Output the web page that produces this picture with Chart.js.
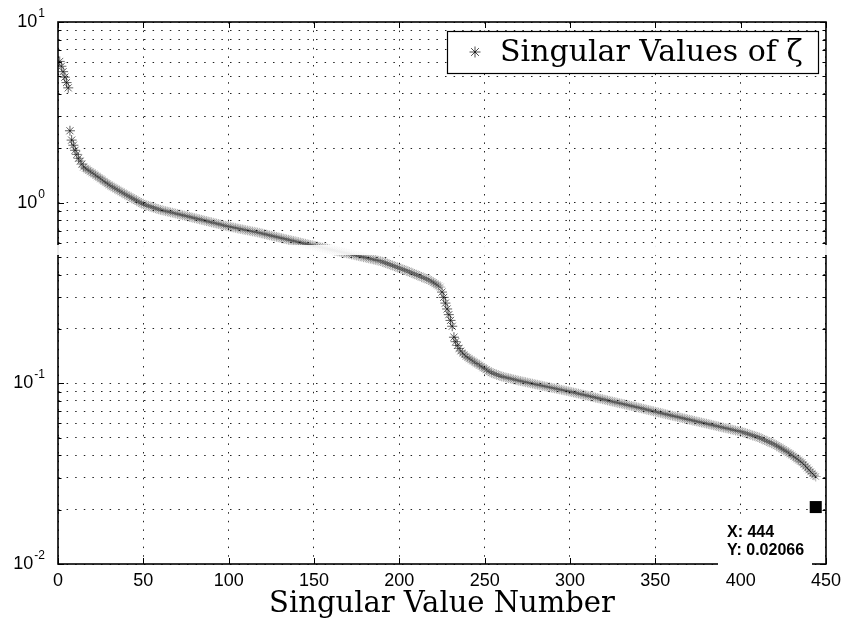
<!DOCTYPE html>
<html>
<head>
<meta charset="utf-8">
<script src="https://cdn.jsdelivr.net/npm/chart.js@4.4.0/dist/chart.umd.min.js"></script>
<style>
  html, body { margin: 0; padding: 0; background: #fff; }
</style>
</head>
<body>
<canvas id="chart" width="847" height="624"></canvas>
<script>
// singular values, index 1..444
var singularValues = [
  6.05, 5.69, 5.31, 4.95, 4.62, 4.32, 2.50, 2.22, 2.08, 1.95,
  1.85, 1.76, 1.70, 1.635, 1.575, 1.549, 1.528, 1.507, 1.483, 1.462,
  1.442, 1.419, 1.396, 1.377, 1.355, 1.334, 1.312, 1.291, 1.274, 1.253,
  1.237, 1.222, 1.206, 1.191, 1.176, 1.161, 1.147, 1.132, 1.118, 1.104,
  1.091, 1.078, 1.065, 1.052, 1.040, 1.028, 1.015, 1.003, 0.991, 0.980,
  0.972, 0.966, 0.959, 0.952, 0.945, 0.938, 0.932, 0.925, 0.919, 0.912,
  0.907, 0.903, 0.898, 0.893, 0.889, 0.884, 0.880, 0.875, 0.870, 0.866,
  0.861, 0.857, 0.852, 0.848, 0.844, 0.839, 0.835, 0.830, 0.826, 0.821,
  0.817, 0.813, 0.808, 0.804, 0.800, 0.795, 0.791, 0.787, 0.782, 0.778,
  0.774, 0.770, 0.766, 0.762, 0.758, 0.753, 0.749, 0.745, 0.741, 0.738,
  0.735, 0.731, 0.728, 0.725, 0.721, 0.718, 0.715, 0.712, 0.708, 0.705,
  0.702, 0.699, 0.696, 0.693, 0.690, 0.687, 0.684, 0.681, 0.677, 0.674,
  0.670, 0.667, 0.663, 0.660, 0.656, 0.653, 0.650, 0.646, 0.643, 0.640,
  0.636, 0.633, 0.630, 0.627, 0.623, 0.620, 0.617, 0.614, 0.611, 0.608,
  0.605, 0.602, 0.598, 0.595, 0.592, 0.589, 0.586, 0.583, 0.581, 0.578,
  0.575, 0.572, 0.569, 0.566, 0.563, 0.560, 0.558, 0.555, 0.552, 0.549,
  0.546, 0.544, 0.541, 0.538, 0.536, 0.533, 0.530, 0.528, 0.525, 0.522,
  0.520, 0.517, 0.515, 0.512, 0.509, 0.507, 0.504, 0.502, 0.499, 0.497,
  0.494, 0.492, 0.489, 0.487, 0.484, 0.482, 0.479, 0.477, 0.475, 0.471,
  0.467, 0.463, 0.460, 0.456, 0.452, 0.449, 0.445, 0.442, 0.438, 0.434,
  0.431, 0.427, 0.424, 0.421, 0.417, 0.413, 0.410, 0.406, 0.402, 0.399,
  0.395, 0.392, 0.388, 0.385, 0.381, 0.378, 0.375, 0.371, 0.366, 0.361,
  0.356, 0.351, 0.346, 0.341, 0.320, 0.299, 0.278, 0.258, 0.240, 0.223,
  0.207, 0.180, 0.170, 0.162, 0.156, 0.151, 0.147, 0.144, 0.141, 0.139,
  0.137, 0.135, 0.133, 0.131, 0.129, 0.128, 0.126, 0.124, 0.122, 0.121,
  0.119, 0.117, 0.116, 0.1146, 0.1135, 0.1127, 0.1117, 0.1109, 0.1099, 0.1091,
  0.1085, 0.1080, 0.1074, 0.1069, 0.1063, 0.1057, 0.1052, 0.1046, 0.1040, 0.1035,
  0.1030, 0.1025, 0.1020, 0.1015, 0.1010, 0.1006, 0.1001, 0.0996, 0.0991, 0.0986,
  0.0982, 0.0977, 0.0973, 0.0968, 0.0964, 0.0959, 0.0955, 0.0951, 0.0946, 0.0942,
  0.0938, 0.0933, 0.0929, 0.0925, 0.0920, 0.0916, 0.0912, 0.0908, 0.0904, 0.0899,
  0.0895, 0.0890, 0.0886, 0.0881, 0.0877, 0.0872, 0.0868, 0.0864, 0.0859, 0.0855,
  0.0851, 0.0846, 0.0842, 0.0838, 0.0834, 0.0829, 0.0825, 0.0821, 0.0817, 0.0813,
  0.0809, 0.0804, 0.0800, 0.0796, 0.0792, 0.0788, 0.0784, 0.0780, 0.0776, 0.0773,
  0.0769, 0.0765, 0.0761, 0.0757, 0.0753, 0.0749, 0.0746, 0.0742, 0.0738, 0.0735,
  0.0731, 0.0727, 0.0723, 0.0719, 0.0715, 0.0711, 0.0708, 0.0704, 0.0700, 0.0697,
  0.0693, 0.0690, 0.0686, 0.0682, 0.0679, 0.0675, 0.0672, 0.0668, 0.0665, 0.0661,
  0.0658, 0.0655, 0.0652, 0.0648, 0.0645, 0.0642, 0.0638, 0.0635, 0.0632, 0.0629,
  0.0626, 0.0622, 0.0619, 0.0616, 0.0613, 0.0610, 0.0607, 0.0604, 0.0601, 0.0598,
  0.0595, 0.0592, 0.0589, 0.0586, 0.0583, 0.0580, 0.0577, 0.0574, 0.0571, 0.0568,
  0.0565, 0.0563, 0.0560, 0.0557, 0.0554, 0.0551, 0.0548, 0.0546, 0.0543, 0.0541,
  0.0537, 0.0533, 0.0530, 0.0526, 0.0522, 0.0519, 0.0515, 0.0512, 0.0508, 0.0505,
  0.0500, 0.0495, 0.0490, 0.0486, 0.0481, 0.0476, 0.0472, 0.0467, 0.0463, 0.0458,
  0.0452, 0.0447, 0.0441, 0.0435, 0.0430, 0.0424, 0.0419, 0.0413, 0.0407, 0.0401,
  0.0394, 0.0388, 0.0382, 0.0376, 0.0370, 0.0364, 0.0356, 0.0348, 0.0340, 0.0332,
  0.0324, 0.0317, 0.0310, 0.0305
];

// data tip shown in the figure
var tipX = 444;
var tipY = 0.02066;

var xTicks = [0, 50, 100, 150, 200, 250, 300, 350, 400, 450];
var yDecades = [0.01, 0.1, 1, 10];
var yGridValues = [
  0.01, 0.02, 0.03, 0.04, 0.05, 0.06, 0.07, 0.08, 0.09,
  0.1, 0.2, 0.3, 0.4, 0.5, 0.6, 0.7, 0.8, 0.9,
  1, 2, 3, 4, 5, 6, 7, 8, 9,
  10
];
var legendLabel = 'Singular Values of \u03B6';
var xTitle = 'Singular Value Number';

var points = singularValues.map(function (v, i) {
  return { x: i + 1, y: v };
});

// stars that stand apart from their neighbour look darker in the scan
function starColor(c) {
  var i = c.dataIndex;
  var prev = singularValues[i > 0 ? i - 1 : 1];
  var d = Math.abs(Math.log10(singularValues[i]) - Math.log10(prev));
  var alpha = 0.25 + Math.min(0.55, d * 18);
  return 'rgba(0,0,0,' + alpha.toFixed(2) + ')';
}

function starPath(ctx, x, y, r) {
  var d = r * Math.SQRT1_2;
  ctx.moveTo(x - r, y); ctx.lineTo(x + r, y);
  ctx.moveTo(x, y - r); ctx.lineTo(x, y + r);
  ctx.moveTo(x - d, y - d); ctx.lineTo(x + d, y + d);
  ctx.moveTo(x - d, y + d); ctx.lineTo(x + d, y - d);
}

var framePlugin = {
  id: 'frame',
  afterDraw: function (chart) {
    var ctx = chart.ctx;
    var a = chart.chartArea;
    var xs = chart.scales.x;
    var ys = chart.scales.y;

    ctx.save();

    // inward ticks on all four sides
    ctx.strokeStyle = '#000';
    ctx.lineWidth = 1;
    ctx.beginPath();
    xTicks.forEach(function (t) {
      var px = Math.round(xs.getPixelForValue(t)) + 0.5;
      ctx.moveTo(px, a.bottom); ctx.lineTo(px, a.bottom - 6);
      ctx.moveTo(px, a.top); ctx.lineTo(px, a.top + 6);
    });
    yGridValues.forEach(function (v) {
      var py = Math.round(ys.getPixelForValue(v)) + 0.5;
      var len = yDecades.indexOf(v) >= 0 ? 6 : 3.5;
      ctx.moveTo(a.left, py); ctx.lineTo(a.left + len, py);
      ctx.moveTo(a.right, py); ctx.lineTo(a.right - len, py);
    });
    ctx.stroke();

    // axes box
    ctx.lineWidth = 1.6;
    ctx.strokeRect(a.left, a.top, a.right - a.left, a.bottom - a.top);

    // y tick labels 10^n
    ctx.fillStyle = '#000';
    ctx.textBaseline = 'alphabetic';
    yDecades.forEach(function (v) {
      var py = ys.getPixelForValue(v);
      var exp = String(Math.round(Math.log10(v)));
      ctx.font = '12px "Liberation Sans", Arial, sans-serif';
      var ew = ctx.measureText(exp).width;
      var right = 45;
      ctx.textAlign = 'left';
      ctx.fillText(exp, right - ew, py - 5);
      ctx.font = '18px "Liberation Sans", Arial, sans-serif';
      ctx.textAlign = 'right';
      ctx.fillText('10', right - ew - 1, py + 5);
    });

    // legend box
    ctx.fillStyle = '#fff';
    ctx.fillRect(447, 31, 371, 42);
    ctx.lineWidth = 1.2;
    ctx.strokeStyle = '#000';
    ctx.strokeRect(447.5, 31.5, 371, 42);
    ctx.beginPath();
    ctx.lineWidth = 1;
    ctx.strokeStyle = 'rgba(0,0,0,0.7)';
    starPath(ctx, 475, 52, 5.5);
    ctx.stroke();
    ctx.fillStyle = '#000';
    ctx.font = '30px "DejaVu Serif", serif';
    ctx.textAlign = 'left';
    ctx.textBaseline = 'middle';
    ctx.fillText(legendLabel, 500, 53);

    // data tip label
    ctx.fillStyle = '#fff';
    ctx.fillRect(718, 514, 94, 56);
    ctx.fillStyle = '#000';
    ctx.font = 'bold 16px "Liberation Sans", Arial, sans-serif';
    ctx.textBaseline = 'alphabetic';
    ctx.fillText('X: ' + tipX, 727, 537);
    ctx.fillText('Y: ' + tipY, 727, 555);

    // light band left by the scan
    ctx.fillStyle = 'rgba(255,255,255,0.9)';
    ctx.fillRect(0, 245, 847, 10);

    ctx.restore();
  }
};

new Chart(document.getElementById('chart'), {
  type: 'scatter',
  data: {
    datasets: [
      {
        label: legendLabel,
        data: points,
        pointStyle: 'star',
        pointRadius: 5,
        borderWidth: 0.8,
        borderColor: starColor,
        backgroundColor: 'rgba(0,0,0,0)'
      },
      {
        label: 'data tip',
        data: [{ x: tipX, y: tipY }],
        pointStyle: 'rect',
        pointRadius: 8.5,
        borderWidth: 0,
        backgroundColor: '#000',
        borderColor: '#000'
      }
    ]
  },
  options: {
    responsive: false,
    animation: false,
    devicePixelRatio: 1,
    events: [],
    layout: { padding: { top: 22, right: 21, left: 0, bottom: 0 } },
    plugins: {
      legend: { display: false },
      tooltip: { enabled: false }
    },
    scales: {
      x: {
        type: 'linear',
        min: 0,
        max: 450,
        afterFit: function (s) { s.height = 60; },
        afterBuildTicks: function (s) {
          s.ticks = xTicks.map(function (t) { return { value: t }; });
        },
        ticks: {
          color: '#000',
          padding: 6,
          maxRotation: 0,
          font: { family: '"Liberation Sans", Arial, sans-serif', size: 18 }
        },
        grid: { color: '#222', lineWidth: 1, drawTicks: false },
        border: { display: false, dash: [1.5, 7.1] },
        title: {
          display: true,
          text: xTitle,
          color: '#000',
          padding: { top: 0, bottom: 2 },
          font: { family: '"DejaVu Serif", serif', size: 29, weight: 'normal' }
        }
      },
      y: {
        type: 'logarithmic',
        min: 0.01,
        max: 10,
        afterFit: function (s) { s.width = 58; },
        afterBuildTicks: function (s) {
          s.ticks = yGridValues.map(function (v) { return { value: v }; });
        },
        ticks: { display: false },
        grid: { color: '#222', lineWidth: 1, drawTicks: false },
        border: { display: false, dash: [1.5, 7.1] }
      }
    }
  },
  plugins: [framePlugin]
});
</script>
</body>
</html>
